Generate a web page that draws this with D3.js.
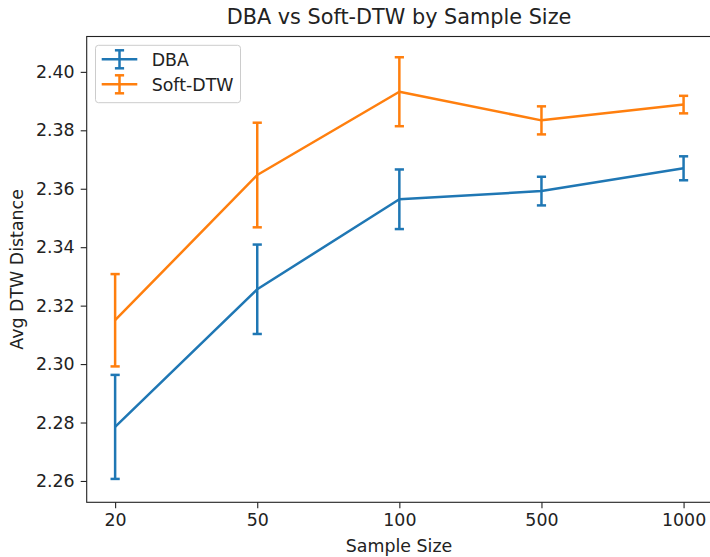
<!DOCTYPE html>
<html><head><meta charset="utf-8">
<script src="https://cdn.jsdelivr.net/npm/d3@7"></script>
<style>body{margin:0;background:#fff}svg{display:block}text{font-family:"DejaVu Sans",sans-serif;fill:#222}</style>
</head><body>
<script>
const categories = ["20","50","100","500","1000"];
const dbaMean = [2.2785, 2.3256, 2.3564, 2.3592, 2.3670];
const dbaErr  = [0.0178, 0.0153, 0.0102, 0.0049, 0.0041];
const softMean = [2.3150, 2.3647, 2.3932, 2.3834, 2.3888];
const softErr  = [0.0158, 0.0179, 0.0118, 0.0048, 0.0030];
const yTicks = [2.26, 2.28, 2.30, 2.32, 2.34, 2.36, 2.38, 2.40];
const seriesNames = ["DBA", "Soft-DTW"];
const colors = ["#1f77b4", "#ff7f0e"];

const W = 710, H = 557;
const L = 86.7, R = 712, T = 36.5, B = 502.3;
const svg = d3.select("body").append("svg").attr("width", W).attr("height", H);

const x = d3.scaleLinear().domain([-0.2, 4.2]).range([L, R]);
const y = d3.scaleLinear().domain([2.2527, 2.4121]).range([B, T]);

const xAxis = d3.axisBottom(x).tickValues(d3.range(categories.length)).tickFormat(i => categories[i]).tickSize(6).tickPadding(5);
const yAxis = d3.axisLeft(y).tickValues(yTicks).tickFormat(d3.format(".2f")).tickSize(6).tickPadding(6);
const gx = svg.append("g").attr("transform", `translate(0,${B})`).call(xAxis);
const gy = svg.append("g").attr("transform", `translate(${L},0)`).call(yAxis);
[gx, gy].forEach(g => {
  g.select(".domain").remove();
  g.selectAll(".tick line").attr("stroke", "#222").attr("stroke-width", 1.1);
  g.selectAll(".tick text").style("font-size", "17.4px").attr("fill", "#222");
});
svg.append("rect").attr("x", L).attr("y", T).attr("width", R - L).attr("height", B - T)
  .attr("fill", "none").attr("stroke", "#222").attr("stroke-width", 1.1);

const series = [
  {name: seriesNames[0], mean: dbaMean, err: dbaErr, color: colors[0]},
  {name: seriesNames[1], mean: softMean, err: softErr, color: colors[1]}
];
const line = d3.line().x((d, i) => x(i)).y(d => y(d));
const cap = 4.6, lw = 2.5;
series.forEach(s => {
  const g = svg.append("g");
  g.append("path").attr("d", line(s.mean)).attr("fill", "none").attr("stroke", s.color).attr("stroke-width", lw).attr("stroke-linejoin", "round");
  s.mean.forEach((m, i) => {
    const cx = x(i), y0 = y(m - s.err[i]), y1 = y(m + s.err[i]);
    g.append("line").attr("x1", cx).attr("x2", cx).attr("y1", y0).attr("y2", y1).attr("stroke", s.color).attr("stroke-width", lw);
    [y0, y1].forEach(yy => g.append("line").attr("x1", cx - cap).attr("x2", cx + cap).attr("y1", yy).attr("y2", yy).attr("stroke", s.color).attr("stroke-width", lw));
  });
});

const lg = svg.append("g");
lg.append("rect").attr("x", 95.5).attr("y", 45.3).attr("width", 145).attr("height", 57.4).attr("rx", 3)
  .attr("fill", "#fff").attr("fill-opacity", 0.8).attr("stroke", "#ccc").attr("stroke-width", 1);
series.forEach((s, i) => {
  const yy = 59.3 + i * 25;
  lg.append("line").attr("x1", 101.7).attr("x2", 137.3).attr("y1", yy).attr("y2", yy).attr("stroke", s.color).attr("stroke-width", lw);
  lg.append("line").attr("x1", 119.5).attr("x2", 119.5).attr("y1", yy - 9).attr("y2", yy + 9).attr("stroke", s.color).attr("stroke-width", lw);
  [yy - 9, yy + 9].forEach(q => lg.append("line").attr("x1", 119.5 - cap).attr("x2", 119.5 + cap).attr("y1", q).attr("y2", q).attr("stroke", s.color).attr("stroke-width", lw));
  lg.append("text").attr("x", 151.7).attr("y", yy).attr("dy", "0.36em").style("font-size", "17.4px").text(s.name);
});

svg.append("text").attr("x", 399).attr("y", 23.5).attr("text-anchor", "middle").style("font-size", "20.8px").text("DBA vs Soft-DTW by Sample Size");
svg.append("text").attr("x", 399).attr("y", 552).attr("text-anchor", "middle").style("font-size", "17.4px").text("Sample Size");
svg.append("text").attr("transform", "translate(22.7,269.4) rotate(-90)").attr("text-anchor", "middle").style("font-size", "17.4px").text("Avg DTW Distance");
</script>
</body></html>
